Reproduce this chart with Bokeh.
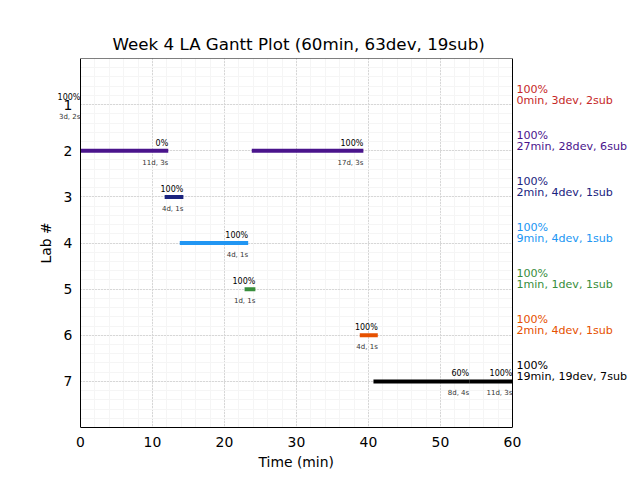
from bokeh.plotting import figure
from bokeh.models import ColumnDataSource, LabelSet, Range1d, FixedTicker, LinearAxis, Title
from bokeh.core.properties import value
from bokeh.embed import file_html
from bokeh.resources import INLINE

# ---- data ----
title = "Week 4 LA Gantt Plot (60min, 63dev, 19sub)"
x_label = "Time (min)"
y_label = "Lab #"
lab_ids = [1, 2, 3, 4, 5, 6, 7]
lab_colors = ["#c62828", "#4a148c", "#1a237e", "#2196f3", "#388e3c", "#e65100", "#000000"]
lab_summary = [
    "0min, 3dev, 2sub",
    "27min, 28dev, 6sub",
    "2min, 4dev, 1sub",
    "9min, 4dev, 1sub",
    "1min, 1dev, 1sub",
    "2min, 4dev, 1sub",
    "19min, 19dev, 7sub",
]
lab_pct = ["100%", "100%", "100%", "100%", "100%", "100%", "100%"]

seg_lab = [1, 2, 2, 3, 4, 5, 6, 7, 7]
seg_start = [0.0, 0.0, 23.8, 11.7, 13.8, 22.8, 38.8, 40.7, 54.0]
seg_end = [0.0, 12.2, 39.3, 14.3, 23.3, 24.3, 41.3, 54.0, 60.0]
seg_pct = ["100%", "0%", "100%", "100%", "100%", "100%", "100%", "60%", "100%"]
seg_info = ["3d, 2s", "11d, 3s", "17d, 3s", "4d, 1s", "4d, 1s", "1d, 1s", "4d, 1s", "8d, 4s", "11d, 3s"]

x_ticks = [0, 10, 20, 30, 40, 50, 60]
x_lim = (0, 60)
y_lim = (0, 8)
FONT = "DejaVu Sans"

# the frame is widened so that texts beyond the axes box are not clipped
x_view = (-3.6, 76.4)

seg_color = [lab_colors[l - 1] for l in seg_lab]
src = ColumnDataSource(dict(lab=seg_lab, x0=seg_start, x1=seg_end, pct=seg_pct,
                            info=seg_info, color=seg_color))
lab_src = ColumnDataSource(dict(lab=lab_ids, x=[x_lim[1]] * len(lab_ids), pct=lab_pct,
                                summ=lab_summary, color=lab_colors))

p = figure(width=640, height=480, output_backend="svg", toolbar_location=None,
           x_range=Range1d(*x_view), y_range=Range1d(y_lim[1], y_lim[0]),
           min_border_left=54, min_border_right=10, min_border_top=58, min_border_bottom=53)

p.title.text = title
p.title.align = "left"
p.title.offset = 58
p.title.text_font = FONT
p.title.text_font_size = "16.7px"
p.title.text_font_style = "normal"
p.title.text_color = "black"

# grid
p.xgrid.ticker = FixedTicker(ticks=x_ticks, minor_ticks=list(range(0, 61, 2)))
p.ygrid.ticker = FixedTicker(ticks=lab_ids, minor_ticks=[i / 5 for i in range(0, 41)])
p.xgrid.bounds = x_lim
p.ygrid.bounds = y_lim
p.xgrid.cross_bounds = y_lim
p.ygrid.cross_bounds = x_lim
p.grid.grid_line_color = "#b8b8b8"
p.grid.grid_line_dash = "1 2"
p.grid.grid_line_width = 1
p.grid.minor_grid_line_color = "#f5f5f5"
p.grid.minor_grid_line_width = 1
p.outline_line_color = None

p.segment(x0="x0", y0="lab", x1="x1", y1="lab", line_color="color", line_width=4, source=src)

p.add_layout(LabelSet(x="x1", y="lab", text="pct", source=src, text_align="right",
                      text_baseline="alphabetic", y_offset=5, text_font=value(FONT),
                      text_font_size="8px", text_color="black"))
p.add_layout(LabelSet(x="x1", y="lab", text="info", source=src, text_align="right",
                      text_baseline="alphabetic", y_offset=-14, text_font=value(FONT),
                      text_font_size="7px", text_color="#333333"))

p.add_layout(LabelSet(x="x", y="lab", text="pct", source=lab_src, x_offset=4, y_offset=12,
                      text_align="left", text_baseline="alphabetic", text_font=value(FONT),
                      text_font_size="11.1px", text_color="color"))
p.add_layout(LabelSet(x="x", y="lab", text="summ", source=lab_src, x_offset=4, y_offset=1,
                      text_align="left", text_baseline="alphabetic", text_font=value(FONT),
                      text_font_size="11.1px", text_color="color"))

# axes
p.xaxis.ticker = FixedTicker(ticks=x_ticks)
p.yaxis.ticker = FixedTicker(ticks=lab_ids)
p.xaxis.bounds = x_lim
p.yaxis.bounds = y_lim
p.yaxis.fixed_location = x_lim[0]
for ax in (p.xaxis[0], p.yaxis[0]):
    ax.major_label_text_font = FONT
    ax.major_label_text_font_size = "13.9px"
    ax.major_label_text_color = "black"
    ax.major_tick_out = 0
    ax.major_tick_in = 0
    ax.minor_tick_out = 0
    ax.minor_tick_in = 0
    ax.axis_line_color = "black"
    ax.axis_line_width = 1
p.yaxis.major_label_orientation = "horizontal"
p.xaxis.major_label_standoff = 9
p.yaxis.major_label_standoff = 8

# top and right edges of the axes box
top_axis = LinearAxis(ticker=FixedTicker(ticks=[]), bounds=x_lim, fixed_location=y_lim[0],
                      major_tick_out=0, major_tick_in=0, minor_tick_out=0, minor_tick_in=0,
                      axis_line_color="black", axis_line_width=1)
right_axis = LinearAxis(ticker=FixedTicker(ticks=[]), bounds=y_lim, fixed_location=x_lim[1],
                        major_tick_out=0, major_tick_in=0, minor_tick_out=0, minor_tick_in=0,
                        axis_line_color="black", axis_line_width=1)
p.add_layout(top_axis, "above")
p.add_layout(right_axis, "right")

# axis titles
p.add_layout(Title(text=x_label, align="left", offset=204, text_font=FONT,
                   text_font_size="13.9px", text_font_style="normal", text_color="black",
                   standoff=4), "below")
p.add_layout(Title(text=y_label, align="center", text_font=FONT, standoff=2,
                   text_font_size="13.9px", text_font_style="normal", text_color="black"), "left")

open("out.html", "w").write(file_html(p, INLINE))
